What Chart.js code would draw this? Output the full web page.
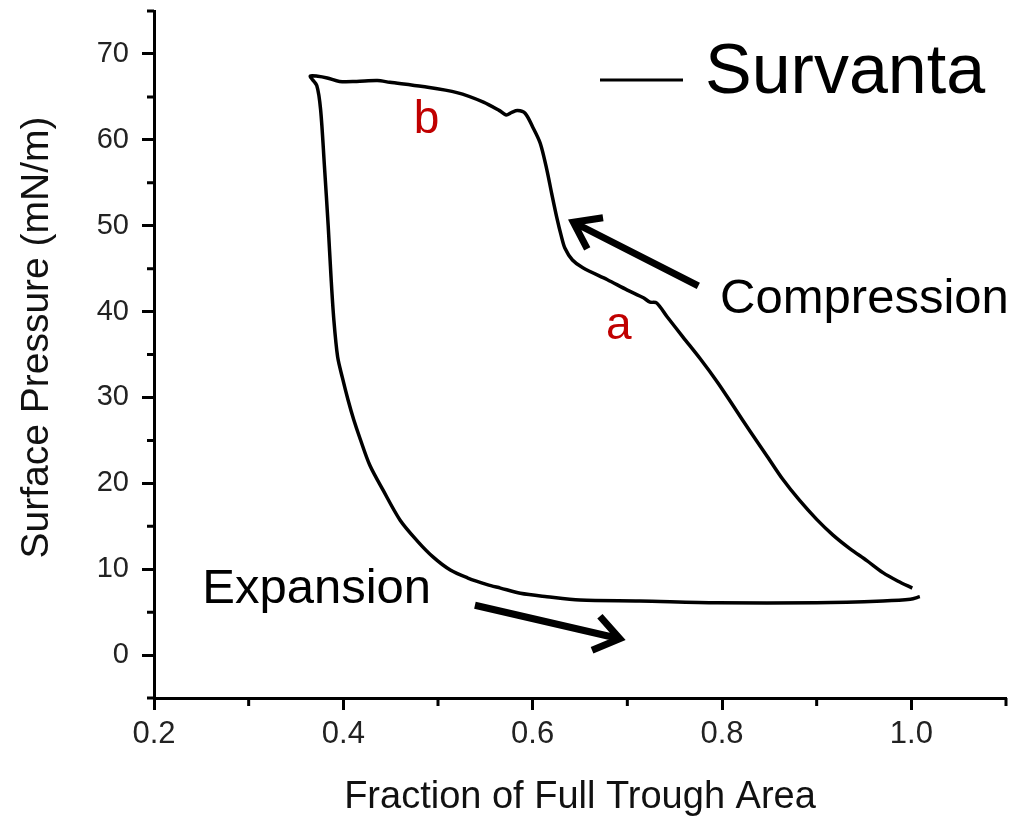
<!DOCTYPE html>
<html>
<head>
<meta charset="utf-8">
<title>Survanta</title>
<script src="https://cdn.jsdelivr.net/npm/chart.js@4/dist/chart.umd.min.js"></script>
<style>
  body { margin: 0; background: #fff; }
  #wrap { width: 1036px; height: 817px; }
</style>
</head>
<body>
<div id="wrap"><canvas id="grafico" width="1036" height="817"></canvas></div>
<script>
// compression branch, from full trough area towards the collapse plateau
var areaCompressao = [1.001, 0.986, 0.970, 0.953, 0.935, 0.917, 0.900, 0.882, 0.864, 0.848,
  0.830, 0.812, 0.795, 0.777, 0.759, 0.742, 0.731, 0.724, 0.717, 0.700,
  0.679, 0.653, 0.642, 0.634, 0.630, 0.626, 0.620, 0.615, 0.608, 0.600,
  0.592, 0.584, 0.578, 0.572, 0.565, 0.548, 0.520, 0.484, 0.449, 0.436,
  0.414, 0.396, 0.383, 0.373, 0.365];
var pressaoCompressao = [7.8, 8.6, 9.6, 11.0, 12.4, 14.0, 15.8, 18.0, 20.5, 23.1,
  26.0, 29.0, 31.8, 34.5, 37.0, 39.4, 41.0, 41.1, 41.6, 42.5,
  43.7, 45.1, 46.0, 47.4, 48.9, 50.7, 53.8, 56.5, 59.6, 61.5,
  63.1, 63.4, 63.2, 62.9, 63.4, 64.4, 65.5, 66.2, 66.7, 66.9,
  66.8, 66.8, 67.2, 67.4, 67.4];

// expansion branch, back out to full area
var areaExpansao = [0.372, 0.376, 0.380, 0.384, 0.387, 0.390, 0.394, 0.399, 0.405, 0.411,
  0.418, 0.428, 0.442, 0.460, 0.478, 0.495, 0.513, 0.531, 0.552, 0.566,
  0.587, 0.615, 0.650, 0.713, 0.795, 0.900, 0.970, 0.999, 1.009];
var pressaoExpansao = [66.3, 63.5, 57.0, 50.0, 44.0, 39.0, 34.7, 32.3, 29.7, 27.4,
  25.1, 22.1, 19.2, 15.7, 13.3, 11.4, 9.9, 9.0, 8.2, 7.8,
  7.2, 6.8, 6.4, 6.3, 6.1, 6.1, 6.3, 6.5, 6.8];

var xTicks = [0.2, 0.4, 0.6, 0.8, 1.0];
var xMinor = [0.3, 0.5, 0.7, 0.9, 1.1];
var yTicks = [0, 10, 20, 30, 40, 50, 60, 70];
var yMinor = [-5, 5, 15, 25, 35, 45, 55, 65, 75];

var tituloY = 'Surface Pressure (mN/m)';
var fonte = "'Liberation Sans', Arial, sans-serif";
var vermelho = '#c00000';

var pontos = [];
for (var i = 0; i < areaCompressao.length; i++) pontos.push({ x: areaCompressao[i], y: pressaoCompressao[i] });
for (var j = 0; j < areaExpansao.length; j++) pontos.push({ x: areaExpansao[j], y: pressaoExpansao[j] });

function seta(ctx, x1, y1, x2, y2) {
  var ang = Math.atan2(y2 - y1, x2 - x1);
  var len = 30, abre = 0.62;
  ctx.beginPath();
  ctx.moveTo(x1, y1);
  ctx.lineTo(x2, y2);
  ctx.moveTo(x2 - len * Math.cos(ang - abre), y2 - len * Math.sin(ang - abre));
  ctx.lineTo(x2, y2);
  ctx.lineTo(x2 - len * Math.cos(ang + abre), y2 - len * Math.sin(ang + abre));
  ctx.stroke();
}

// minor ticks, y title, legend, arrows and labels
var extras = {
  id: 'extras',
  afterDraw: function (chart) {
    var ctx = chart.ctx;
    var xs = chart.scales.x, ys = chart.scales.y, area = chart.chartArea;
    ctx.save();
    ctx.strokeStyle = '#000';
    ctx.lineWidth = 3;
    ctx.beginPath();
    xMinor.forEach(function (v) {
      var p = xs.getPixelForValue(v);
      ctx.moveTo(p, area.bottom); ctx.lineTo(p, area.bottom + 8);
    });
    yMinor.forEach(function (v) {
      var p = ys.getPixelForValue(v);
      ctx.moveTo(area.left, p); ctx.lineTo(area.left - 7, p);
    });
    ctx.stroke();

    // y axis title (sits a bit above the middle of the axis)
    ctx.save();
    ctx.translate(37, (area.top + area.bottom) / 2 - 17);
    ctx.rotate(-Math.PI / 2);
    ctx.fillStyle = '#111';
    ctx.textAlign = 'center';
    ctx.textBaseline = 'middle';
    ctx.font = '39px ' + fonte;
    ctx.fillText(tituloY, 0, 0);
    ctx.restore();

    // legend
    ctx.lineWidth = 3;
    ctx.beginPath();
    ctx.moveTo(600, 80); ctx.lineTo(683, 80);
    ctx.stroke();
    ctx.fillStyle = '#000';
    ctx.textBaseline = 'alphabetic';
    ctx.textAlign = 'left';
    ctx.font = '70px ' + fonte;
    ctx.fillText(chart.data.datasets[0].label, 705, 93);

    // arrows
    ctx.lineWidth = 7;
    ctx.lineCap = 'butt';
    ctx.lineJoin = 'miter';
    seta(ctx, xs.getPixelForValue(0.775), ys.getPixelForValue(43.0),
      xs.getPixelForValue(0.643), ys.getPixelForValue(50.4));
    seta(ctx, xs.getPixelForValue(0.539), ys.getPixelForValue(5.8),
      xs.getPixelForValue(0.692), ys.getPixelForValue(1.9));

    ctx.font = '49px ' + fonte;
    ctx.fillText('Compression', xs.getPixelForValue(0.798), ys.getPixelForValue(39.8));
    ctx.fillText('Expansion', xs.getPixelForValue(0.251), ys.getPixelForValue(6.1));

    ctx.fillStyle = vermelho;
    ctx.textAlign = 'center';
    ctx.font = '46px ' + fonte;
    ctx.fillText('b', xs.getPixelForValue(0.488), ys.getPixelForValue(60.8));
    ctx.fillText('a', xs.getPixelForValue(0.691), ys.getPixelForValue(36.8));
    ctx.restore();
  }
};

new Chart(document.getElementById('grafico'), {
  type: 'scatter',
  data: {
    datasets: [{
      label: 'Survanta',
      data: pontos,
      showLine: true,
      borderColor: '#000',
      borderWidth: 3.5,
      pointRadius: 0,
      tension: 0.3,
      fill: false
    }]
  },
  options: {
    responsive: false,
    animation: false,
    layout: { padding: { top: 11, right: 30, left: 0, bottom: 0 } },
    plugins: { legend: { display: false }, tooltip: { enabled: false } },
    scales: {
      x: {
        type: 'linear', min: 0.2, max: 1.1,
        afterFit: function (s) { s.height = 119; s.paddingLeft = 0; s.paddingRight = 0; },
        afterBuildTicks: function (s) { s.ticks = xTicks.map(function (v) { return { value: v }; }); },
        border: { display: true, color: '#000', width: 3 },
        grid: { drawOnChartArea: false, drawTicks: true, tickLength: 12, tickWidth: 3, tickColor: '#000' },
        ticks: {
          color: '#222', padding: 6, maxRotation: 0, autoSkip: false,
          font: { family: fonte, size: 31 },
          callback: function (v) { return Number(v).toFixed(1); }
        },
        title: {
          display: true, text: 'Fraction of Full Trough Area', color: '#111',
          font: { family: fonte, size: 38, lineHeight: 1 }, padding: { top: 0, bottom: 0 }
        }
      },
      y: {
        type: 'linear', min: -5, max: 75,
        afterFit: function (s) { s.width = 154; s.paddingTop = 0; s.paddingBottom = 0; },
        afterBuildTicks: function (s) { s.ticks = yTicks.map(function (v) { return { value: v }; }); },
        border: { display: true, color: '#000', width: 3 },
        grid: { drawOnChartArea: false, drawTicks: true, tickLength: 12, tickWidth: 3, tickColor: '#000' },
        ticks: {
          color: '#222', padding: 13, autoSkip: false,
          font: { family: fonte, size: 29 }
        },
        title: { display: false }
      }
    }
  },
  plugins: [extras]
});
</script>
</body>
</html>
